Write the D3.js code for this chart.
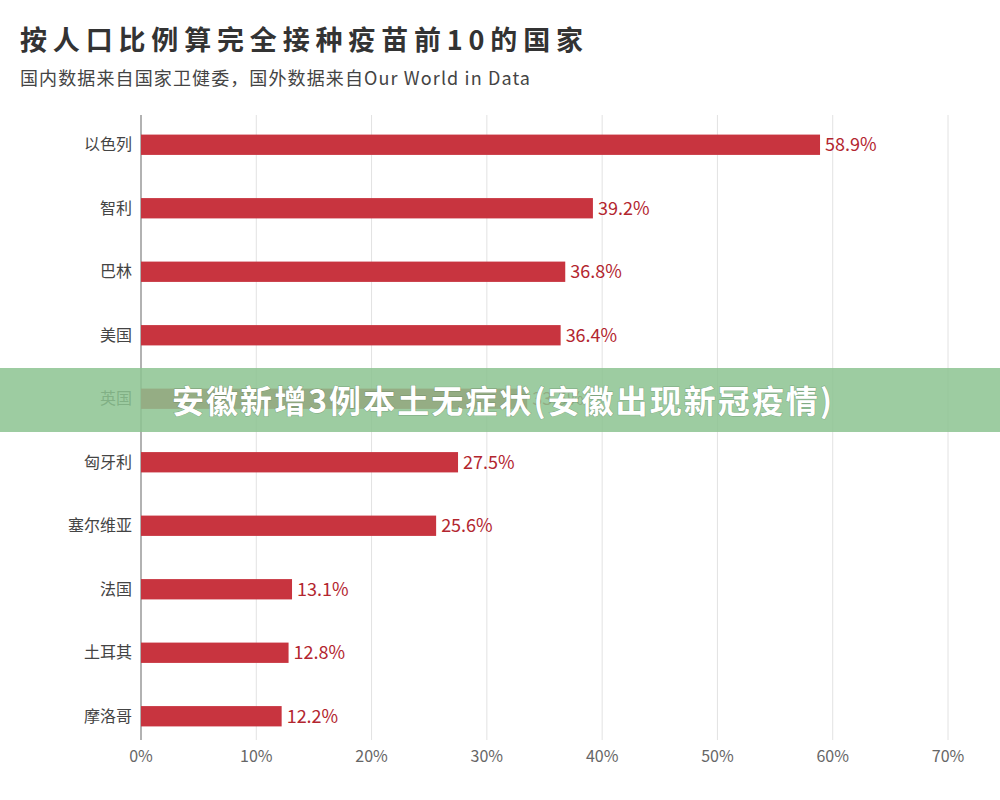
<!DOCTYPE html>
<html><head><meta charset="utf-8">
<script src="https://cdn.jsdelivr.net/npm/d3@7"></script>
<style>body{margin:0;background:#fff;font-family:"Noto Sans CJK SC","Noto Sans",sans-serif}</style>
</head><body><svg id="c" width="1000" height="800"></svg>
<script>
var countries = ["以色列","智利","巴林","美国","英国","匈牙利","塞尔维亚","法国","土耳其","摩洛哥"];
var values = [58.9, 39.2, 36.8, 36.4, 33.5, 27.5, 25.6, 13.1, 12.8, 12.2];
var ticks = [0, 10, 20, 30, 40, 50, 60, 70];

var svg = d3.select("#c");
var x = d3.scaleLinear().domain([0, 70]).range([141, 948]);
var y = d3.scaleBand().domain(countries).range([113, 748]).paddingInner(0.68).paddingOuter(0.34);

svg.append("text").attr("x", 20).attr("y", 50).attr("font-size", 27).attr("font-weight", "bold")
    .attr("fill", "#333").attr("textLength", 563).text("按人口比例算完全接种疫苗前10的国家");
svg.append("text").attr("x", 20).attr("y", 85).attr("font-size", 18).attr("fill", "#444")
    .attr("textLength", 510).text("国内数据来自国家卫健委，国外数据来自Our World in Data");

// grid
svg.append("g").selectAll("line").data(ticks).join("line")
    .attr("x1", d => x(d)).attr("x2", d => x(d)).attr("y1", 115).attr("y2", 740)
    .attr("stroke", d => d === 0 ? "#999" : "#e2e2e2").attr("stroke-width", d => d === 0 ? 1.5 : 1);

svg.append("g").selectAll("text").data(ticks).join("text")
    .attr("x", d => x(d)).attr("y", 762).attr("text-anchor", "middle")
    .attr("font-size", 16).attr("fill", "#666").text(d => d + "%");

svg.append("g").selectAll("rect").data(values).join("rect")
    .attr("x", x(0)).attr("y", (d, i) => y(countries[i]))
    .attr("width", d => x(d) - x(0)).attr("height", y.bandwidth()).attr("fill", "#c8343f");

svg.append("g").selectAll("text").data(values).join("text")
    .attr("x", d => x(d) + 5).attr("y", (d, i) => y(countries[i]) + y.bandwidth() / 2)
    .attr("dy", "0.35em").attr("font-size", 18).attr("fill", "#b3262f").text(d => d.toFixed(1) + "%");

svg.append("g").selectAll("text").data(countries).join("text")
    .attr("x", 132).attr("y", d => y(d) + y.bandwidth() / 2).attr("dy", "0.35em")
    .attr("text-anchor", "end").attr("font-size", 16).attr("fill", "#444").text(d => d);

// overlay banner
svg.append("rect").attr("x", 0).attr("y", 368).attr("width", 1000).attr("height", 64)
    .attr("fill", "rgb(140,195,145)").attr("opacity", 0.85);
svg.append("text").attr("x", 502).attr("y", 402).attr("dy", "0.35em").attr("text-anchor", "middle")
    .attr("font-size", 32).attr("font-weight", "bold").attr("fill", "#fff")
    .attr("textLength", 660)
    .attr("stroke", "rgba(60,90,60,0.35)").attr("stroke-width", 1).attr("paint-order", "stroke")
    .text("安徽新增3例本土无症状(安徽出现新冠疫情)");
</script></body></html>
